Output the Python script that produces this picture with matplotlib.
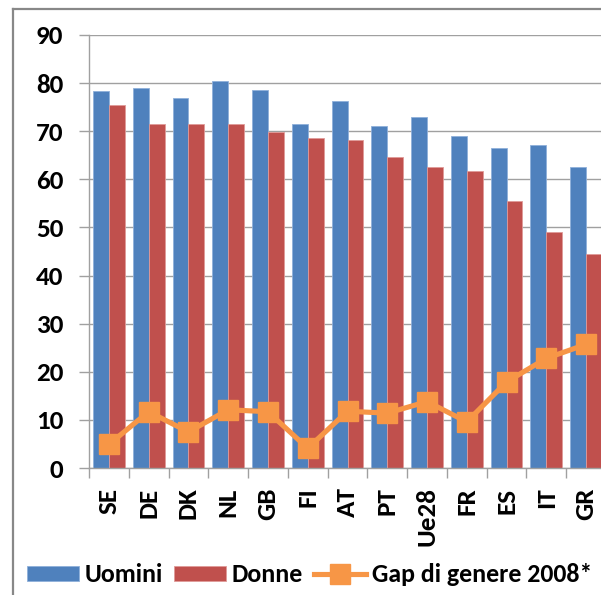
import numpy as np
import matplotlib
matplotlib.use("Agg")
import matplotlib.pyplot as plt
from matplotlib.lines import Line2D

# values
countries = ["SE", "DE", "DK", "NL", "GB", "FI", "AT", "PT", "Ue28", "FR", "ES", "IT", "GR"]
uomini = [78.3, 78.9, 77.0, 80.5, 78.6, 71.4, 76.2, 71.1, 73.0, 69.0, 66.6, 67.1, 62.6]
donne = [75.4, 71.4, 71.4, 71.4, 69.9, 68.5, 68.1, 64.7, 62.6, 61.8, 55.6, 49.0, 44.4]
gap_2008 = [4.9, 11.7, 7.5, 12.1, 11.7, 4.1, 11.8, 11.4, 13.8, 9.6, 17.9, 22.8, 25.7]

BLUE = "#4F81BD"
RED = "#C0504D"
ORANGE = "#F79646"
GRID = "#A0A0A0"
FS = 19.5
FAMILY = ["Carlito", "Open Sans", "DejaVu Sans"]

plt.rcParams["font.family"] = FAMILY
plt.rcParams["font.weight"] = "bold"

W, H = 601, 595
fig = plt.figure(figsize=(W / 100, H / 100), dpi=100)
ax = fig.add_axes([89 / W, 1 - 468 / H, (606 - 89) / W, (468 - 35) / H])

x = np.arange(len(countries))
bw = 0.4
b1 = ax.bar(x - bw / 2, uomini, bw, color=BLUE, edgecolor="#8FB0DA", linewidth=0.6, zorder=2, label="Uomini")
b2 = ax.bar(x + bw / 2, donne, bw, color=RED, edgecolor="#E09A98", linewidth=0.6, zorder=2, label="Donne")
ln, = ax.plot(x, gap_2008, color=ORANGE, lw=3.7, marker="s", ms=14, zorder=3,
              label="Gap di genere 2008*")

ax.set_xlim(-0.5, len(countries) - 0.5)
ax.set_ylim(0, 90)
ax.set_yticks(range(0, 91, 10))
ax.yaxis.grid(True, color=GRID, lw=1.0, zorder=0)
ax.set_axisbelow(True)

ax.set_xticks(x)
ax.set_xticklabels(countries, rotation=90, fontsize=FS, fontweight="bold")
ax.set_xticks(np.arange(-0.5, len(countries), 1), minor=True)
ax.tick_params(axis="x", which="major", length=0, pad=14)
ax.tick_params(axis="x", which="minor", length=7.5, color=GRID, width=1)
ax.tick_params(axis="y", length=7.5, color=GRID, width=1, pad=11, labelsize=FS)
for t in ax.get_yticklabels():
    t.set_fontweight("bold")

for s in ["top", "right"]:
    ax.spines[s].set_visible(False)
for s in ["left", "bottom"]:
    ax.spines[s].set_color(GRID)
    ax.spines[s].set_linewidth(1.0)

# outer chart-area border (cut off on the right and bottom)
fig.add_artist(Line2D([13 / W, 13 / W], [0, 1 - 9 / H], transform=fig.transFigure, color="#888888", lw=1.6))
fig.add_artist(Line2D([13 / W, 1], [1 - 9 / H, 1 - 9 / H], transform=fig.transFigure, color="#888888", lw=1.6))

fig.legend(handles=[b1, b2, ln], loc="center left", bbox_to_anchor=(27 / W, 1 - 575 / H), ncol=3,
           frameon=False, handlelength=2.0, handletextpad=0.22, columnspacing=0.45,
           borderpad=0, borderaxespad=0, numpoints=1, handleheight=0.55,
           prop={"family": FAMILY, "weight": "bold", "size": 18.6})

fig.savefig("out.png", dpi=100)
